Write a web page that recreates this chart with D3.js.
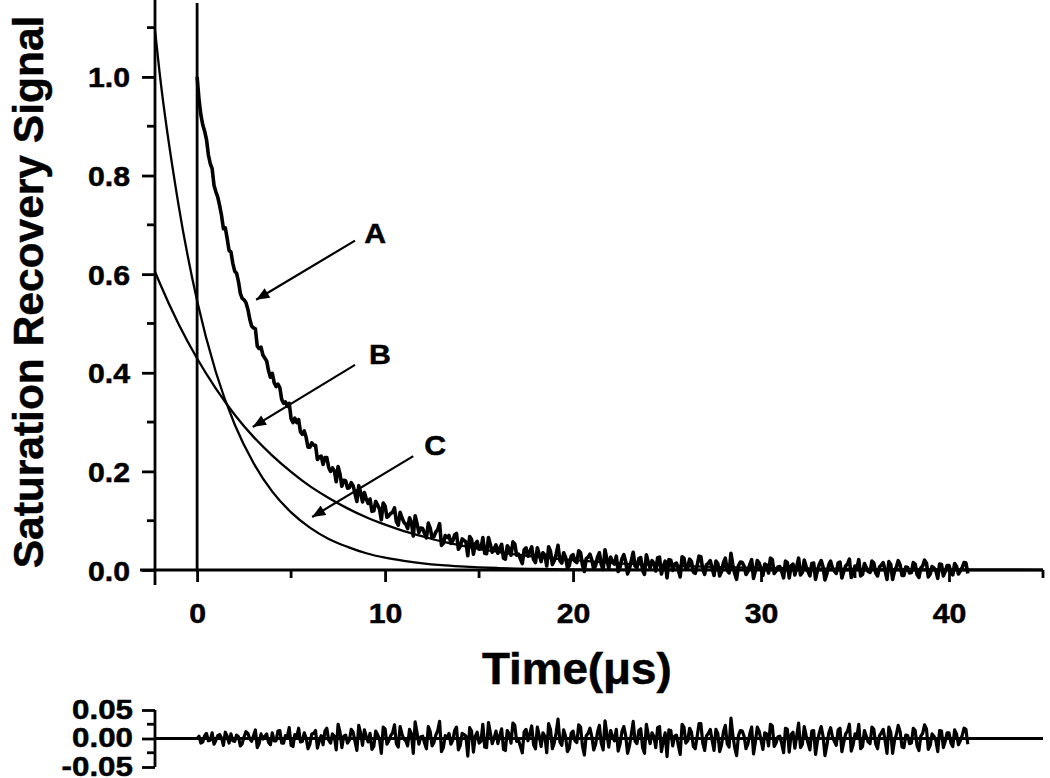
<!DOCTYPE html>
<html>
<head>
<meta charset="utf-8">
<script src="https://cdn.jsdelivr.net/npm/d3@7"></script>
<style>
    html, body { margin: 0; padding: 0; background: #fff; }
    svg { display: block; }
    text { font-family: "Liberation Sans", Arial, sans-serif; font-weight: bold; fill: #000;
           stroke: #000; stroke-width: 0.5px; }
</style>
</head>
<body>
<div id="chart"></div>
<script>
// sampling of the measured trace (A) and its residual, in microseconds
const traceStart = 0;
const traceStep = 0.1;

// curve A: measured saturation recovery signal
const signalA = [
    1.000, 0.955, 0.923, 0.903, 0.890, 0.873, 0.842, 0.824, 0.814, 0.780,
    0.767, 0.756, 0.739, 0.719, 0.692, 0.694, 0.672, 0.648, 0.645, 0.622,
    0.606, 0.602, 0.585, 0.561, 0.551, 0.548, 0.542, 0.529, 0.509, 0.495,
    0.491, 0.489, 0.454, 0.449, 0.452, 0.436, 0.430, 0.424, 0.404, 0.391,
    0.399, 0.380, 0.372, 0.377, 0.370, 0.346, 0.338, 0.341, 0.332, 0.338,
    0.307, 0.299, 0.308, 0.299, 0.305, 0.280, 0.275, 0.282, 0.269, 0.249,
    0.249, 0.258, 0.253, 0.253, 0.224, 0.229, 0.231, 0.214, 0.228, 0.228,
    0.208, 0.200, 0.207, 0.201, 0.179, 0.210, 0.195, 0.170, 0.182, 0.181,
    0.166, 0.167, 0.177, 0.171, 0.155, 0.139, 0.171, 0.157, 0.138, 0.157,
    0.144, 0.135, 0.144, 0.119, 0.120, 0.139, 0.132, 0.124, 0.102, 0.136,
    0.130, 0.107, 0.110, 0.115, 0.117, 0.126, 0.098, 0.091, 0.117, 0.106,
    0.097, 0.093, 0.084, 0.106, 0.097, 0.069, 0.110, 0.094, 0.076, 0.085,
    0.084, 0.074, 0.065, 0.095, 0.085, 0.065, 0.068, 0.077, 0.082, 0.094,
    0.050, 0.054, 0.070, 0.066, 0.070, 0.054, 0.059, 0.071, 0.074, 0.042,
    0.048, 0.063, 0.060, 0.057, 0.029, 0.068, 0.062, 0.032, 0.053, 0.058,
    0.042, 0.043, 0.066, 0.034, 0.033, 0.066, 0.052, 0.036, 0.043, 0.051,
    0.034, 0.044, 0.052, 0.024, 0.022, 0.049, 0.043, 0.030, 0.057, 0.053,
    0.030, 0.032, 0.022, 0.013, 0.041, 0.045, 0.028, 0.037, 0.047, 0.021,
    0.015, 0.045, 0.032, 0.017, 0.035, 0.030, 0.008, 0.047, 0.038, 0.011,
    0.019, 0.032, 0.050, 0.019, 0.014, 0.035, 0.026, 0.004, 0.009, 0.028,
    0.031, 0.018, 0.015, 0.039, 0.035, 0.010, -0.003, 0.023, 0.026, 0.032,
    0.020, 0.002, 0.009, 0.026, 0.035, 0.011, 0.001, 0.041, 0.022, 0.003,
    0.026, 0.017, 0.012, 0.028, -0.003, 0.006, 0.023, 0.031, 0.017, -0.008,
    0.003, 0.019, 0.036, 0.008, 0.005, 0.023, 0.025, -0.001, -0.009, 0.031,
    0.016, 0.004, 0.019, 0.014, -0.002, 0.025, 0.026, -0.008, 0.006, 0.018,
    -0.016, 0.021, 0.020, -0.001, 0.012, 0.014, 0.000, -0.014, 0.027, 0.024,
    0.002, 0.005, 0.022, 0.017, -0.004, -0.007, 0.009, 0.028, 0.027, 0.001,
    -0.009, 0.011, 0.014, 0.019, 0.003, -0.011, 0.018, 0.013, -0.012, -0.003,
    0.015, 0.024, -0.001, -0.006, 0.034, 0.010, -0.007, -0.019, 0.009, 0.016,
    0.015, 0.008, -0.009, -0.003, 0.011, 0.021, -0.017, -0.001, 0.019, 0.014,
    0.002, -0.011, 0.012, 0.010, -0.006, 0.024, 0.021, -0.007, -0.002, 0.006,
    0.007, -0.003, -0.016, 0.018, 0.015, -0.016, 0.008, 0.012, -0.010, 0.007,
    0.024, -0.010, -0.005, 0.020, 0.007, -0.003, -0.012, 0.013, 0.014, -0.019,
    -0.001, 0.011, 0.019, 0.006, -0.020, -0.008, 0.010, 0.018, 0.004, -0.002,
    -0.007, 0.014, 0.016, -0.016, -0.003, 0.008, 0.012, 0.022, -0.015, -0.007,
    0.008, 0.004, 0.021, -0.012, -0.009, 0.013, 0.005, -0.003, -0.005, 0.018,
    0.014, -0.006, -0.012, 0.006, 0.010, 0.015, -0.001, -0.019, 0.017, 0.011,
    -0.019, -0.002, 0.006, 0.019, 0.010, -0.011, -0.011, 0.006, 0.005, -0.006,
    -0.005, 0.015, 0.012, -0.009, -0.015, 0.004, 0.008, 0.020, 0.014, -0.014,
    -0.008, 0.007, 0.004, -0.001, -0.017, 0.012, 0.011, -0.012, -0.003, 0.009,
    0.009, -0.005, -0.010, 0.013, 0.007, -0.008, -0.002, 0.005, 0.015, 0.014,
    -0.007
];

// residual of the fit, same sampling as signalA
const residual = [
    0.000, 0.004, -0.008, -0.006, 0.005, 0.009, -0.004, -0.003, 0.010, -0.010,
    -0.003, 0.005, 0.007, 0.001, -0.012, 0.011, 0.004, -0.008, 0.008, -0.004,
    -0.005, 0.006, 0.003, -0.013, -0.009, 0.003, 0.012, 0.009, -0.001, -0.005,
    0.005, 0.015, -0.016, -0.009, 0.008, -0.001, 0.004, 0.008, -0.007, -0.011,
    0.010, -0.004, -0.004, 0.013, 0.014, -0.008, -0.008, 0.005, 0.003, 0.019,
    -0.012, -0.014, 0.007, 0.003, 0.018, -0.006, -0.005, 0.010, 0.001, -0.018,
    -0.010, 0.008, 0.009, 0.014, -0.017, -0.004, 0.005, -0.011, 0.013, 0.018,
    -0.003, -0.008, 0.008, 0.004, -0.020, 0.025, 0.012, -0.016, 0.004, 0.006,
    -0.008, -0.003, 0.016, 0.011, -0.005, -0.021, 0.023, 0.009, -0.012, 0.015,
    0.003, -0.006, 0.009, -0.019, -0.014, 0.013, 0.007, -0.001, -0.026, 0.020,
    0.017, -0.010, -0.004, 0.005, 0.010, 0.024, -0.009, -0.015, 0.021, 0.008,
    -0.001, -0.004, -0.013, 0.016, 0.008, -0.026, 0.029, 0.010, -0.010, 0.003,
    0.004, -0.008, -0.018, 0.021, 0.012, -0.013, -0.007, 0.006, 0.014, 0.030,
    -0.023, -0.016, 0.005, 0.001, 0.009, -0.010, -0.003, 0.014, 0.020, -0.020,
    -0.012, 0.009, 0.007, 0.004, -0.031, 0.019, 0.013, -0.024, 0.004, 0.011,
    -0.008, -0.005, 0.025, -0.015, -0.016, 0.028, 0.010, -0.009, 0.001, 0.013,
    -0.009, 0.005, 0.017, -0.019, -0.021, 0.014, 0.008, -0.008, 0.027, 0.023,
    -0.005, -0.003, -0.014, -0.025, 0.012, 0.016, -0.004, 0.008, 0.022, -0.011,
    -0.018, 0.020, 0.005, -0.014, 0.010, 0.004, -0.025, 0.026, 0.016, -0.018,
    -0.008, 0.010, 0.034, -0.006, -0.012, 0.015, 0.004, -0.023, -0.017, 0.009,
    0.013, -0.004, -0.007, 0.024, 0.020, -0.013, -0.029, 0.005, 0.009, 0.018,
    0.003, -0.020, -0.010, 0.011, 0.023, -0.008, -0.020, 0.031, 0.008, -0.015,
    0.014, 0.003, -0.004, 0.016, -0.022, -0.010, 0.012, 0.021, 0.005, -0.026,
    -0.013, 0.008, 0.030, -0.005, -0.009, 0.014, 0.017, -0.016, -0.026, 0.025,
    0.007, -0.009, 0.010, 0.004, -0.016, 0.019, 0.021, -0.023, -0.005, 0.010,
    -0.032, 0.015, 0.014, -0.013, 0.004, 0.006, -0.012, -0.028, 0.025, 0.020,
    -0.008, -0.004, 0.018, 0.011, -0.014, -0.018, 0.003, 0.026, 0.026, -0.008,
    -0.021, 0.005, 0.009, 0.016, -0.004, -0.021, 0.016, 0.009, -0.023, -0.011,
    0.012, 0.023, -0.009, -0.015, 0.036, 0.006, -0.016, -0.030, 0.005, 0.014,
    0.013, 0.004, -0.018, -0.010, 0.008, 0.020, -0.027, -0.006, 0.020, 0.013,
    -0.003, -0.019, 0.010, 0.008, -0.013, 0.025, 0.022, -0.014, -0.008, 0.003,
    0.004, -0.009, -0.025, 0.018, 0.016, -0.024, 0.007, 0.011, -0.017, 0.005,
    0.027, -0.016, -0.010, 0.021, 0.005, -0.008, -0.020, 0.013, 0.014, -0.028,
    -0.005, 0.010, 0.021, 0.004, -0.030, -0.013, 0.009, 0.019, 0.003, -0.005,
    -0.012, 0.015, 0.018, -0.023, -0.007, 0.008, 0.013, 0.025, -0.022, -0.011,
    0.008, 0.003, 0.025, -0.018, -0.014, 0.014, 0.004, -0.006, -0.009, 0.020,
    0.016, -0.010, -0.018, 0.005, 0.010, 0.016, -0.004, -0.026, 0.020, 0.011,
    -0.026, -0.004, 0.007, 0.023, 0.012, -0.015, -0.016, 0.006, 0.005, -0.009,
    -0.008, 0.018, 0.014, -0.013, -0.021, 0.004, 0.009, 0.024, 0.017, -0.019,
    -0.012, 0.008, 0.004, -0.003, -0.023, 0.014, 0.013, -0.016, -0.005, 0.010,
    0.010, -0.008, -0.014, 0.015, 0.008, -0.011, -0.004, 0.005, 0.018, 0.016,
    -0.010
];

// fitted components B (slow) and C (fast)
const fitTime = [-2.24, -2, -1, 0, 1, 2, 3, 4, 5, 6, 7, 8, 9, 10, 11, 12, 13, 14, 15,
    16, 17, 18, 19, 20, 22, 24, 26, 28, 30, 33, 36, 40, 45];
const fitB = [0.605, 0.583, 0.500, 0.429, 0.368, 0.315, 0.270, 0.232, 0.199, 0.170, 0.146,
    0.125, 0.107, 0.092, 0.079, 0.068, 0.058, 0.050, 0.043, 0.037, 0.031, 0.027, 0.023,
    0.020, 0.0145, 0.0107, 0.0079, 0.0058, 0.0042, 0.0027, 0.0017, 0.0009, 0.0004];
const fitC = [1.095, 1.010, 0.743, 0.546, 0.401, 0.295, 0.217, 0.159, 0.117, 0.086, 0.063,
    0.047, 0.034, 0.025, 0.0185, 0.0136, 0.010, 0.0074, 0.0054, 0.004, 0.0029, 0.0022,
    0.0016, 0.0012, 0.0006, 0.0003, 0.0002, 0.0001, 0.0001, 0, 0, 0, 0];

// ticks
const xMajorTicks = [0, 10, 20, 30, 40];
const xMinorTicks = [5, 15, 25, 35, 45];
const yMajorTicks = [0, 0.2, 0.4, 0.6, 0.8, 1.0];
const yMinorTicks = [0.1, 0.3, 0.5, 0.7, 0.9, 1.1];
const resMajorTicks = [-0.05, 0, 0.05];
const resMinorTicks = [-0.025, 0.025];

// annotations: label, label position, arrow start, arrow tip (data units)
const arrowLabels = ["A", "B", "C"];
const labelPos = [[9.47, 0.684], [9.73, 0.438], [12.66, 0.254]];
const arrowFrom = [[8.40, 0.668], [8.40, 0.416], [11.50, 0.231]];
const arrowTo = [[3.14, 0.548], [2.96, 0.290], [6.12, 0.1075]];

const W = 1050, H = 778;
const textStretch = 1.08;

const svg = d3.select('#chart').append('svg')
    .attr('width', W)
    .attr('height', H);

const x = d3.scaleLinear().domain([-2.24, 45]).range([155, 1043]);
const y = d3.scaleLinear().domain([0, 1.156]).range([570, 0]);
const yr = d3.scaleLinear().domain([-0.05, 0.05]).range([767, 710]);

const traceTime = signalA.map((v, i) => traceStart + i * traceStep);

// the original lettering is a little wider than Arial: stretch it horizontally
function stretch(sel, sx) {
    sel.each(function () {
        const t = d3.select(this);
        const tx = +t.attr('x') || 0;
        const ty = +t.attr('y') || 0;
        t.attr('x', 0).attr('y', 0)
            .attr('transform', `translate(${tx},${ty}) scale(${sx},1)`);
    });
}

// ---- main panel ----

// x axis (overshoots a little to the left like the original)
svg.append('line')
    .attr('x1', x(-2.24) - 15).attr('x2', x(45))
    .attr('y1', y(0)).attr('y2', y(0))
    .attr('stroke', '#000').attr('stroke-width', 2.8);

const xAxis = svg.append('g')
    .attr('transform', `translate(0,${y(0)})`);
xAxis.call(d3.axisBottom(x).tickValues(xMajorTicks).tickSize(12).tickFormat(d3.format('d')))
    .call(g => g.select('.domain').remove())
    .call(g => g.selectAll('line').attr('stroke-width', 2.8))
    .call(g => g.selectAll('text')
        .attr('dy', null).attr('y', 53)
        .style('font-size', '28px'));
stretch(xAxis.selectAll('text'), textStretch);
xAxis.selectAll('.minor')
    .data(xMinorTicks)
    .join('line')
    .attr('class', 'minor')
    .attr('x1', d => x(d)).attr('x2', d => x(d))
    .attr('y1', 0).attr('y2', 8)
    .attr('stroke', '#000').attr('stroke-width', 2.8);

// y axis (runs a little below the x axis)
svg.append('line')
    .attr('x1', x(-2.24)).attr('x2', x(-2.24))
    .attr('y1', 0).attr('y2', y(0) + 15)
    .attr('stroke', '#000').attr('stroke-width', 2.8);

const yAxis = svg.append('g')
    .attr('transform', `translate(${x(-2.24)},0)`);
yAxis.call(d3.axisLeft(y).tickValues(yMajorTicks).tickSize(13).tickFormat(d3.format('.1f')))
    .call(g => g.select('.domain').remove())
    .call(g => g.selectAll('line').attr('stroke-width', 2.8))
    .call(g => g.selectAll('text')
        .attr('x', -25).attr('dy', null).attr('y', 10)
        .style('font-size', '28px'));
stretch(yAxis.selectAll('text'), textStretch);
yAxis.selectAll('.minor')
    .data(yMinorTicks)
    .join('line')
    .attr('class', 'minor')
    .attr('x1', -8).attr('x2', 0)
    .attr('y1', d => y(d)).attr('y2', d => y(d))
    .attr('stroke', '#000').attr('stroke-width', 2.8);

// vertical marker at t = 0
svg.append('line')
    .attr('x1', x(0)).attr('x2', x(0))
    .attr('y1', y(0)).attr('y2', y(1.15))
    .attr('stroke', '#000').attr('stroke-width', 2.8);

// fitted components
const fitLine = vals => d3.line()
    .x((d, i) => x(fitTime[i]))
    .y(d => y(d))
    .curve(d3.curveMonotoneX)(vals);

svg.append('path')
    .attr('d', fitLine(fitB))
    .attr('fill', 'none').attr('stroke', '#000').attr('stroke-width', 2.3);

svg.append('path')
    .attr('d', fitLine(fitC))
    .attr('fill', 'none').attr('stroke', '#000').attr('stroke-width', 2.3);

// measured trace
svg.append('path')
    .datum(signalA)
    .attr('d', d3.line()
        .x((d, i) => x(traceTime[i]))
        .y(d => y(d)))
    .attr('fill', 'none').attr('stroke', '#000')
    .attr('stroke-width', 3.6).attr('stroke-linejoin', 'round');

// arrows
svg.append('defs').append('marker')
    .attr('id', 'arrowhead')
    .attr('viewBox', '0 -5 12 10')
    .attr('refX', 12)
    .attr('refY', 0)
    .attr('markerWidth', 14)
    .attr('markerHeight', 11)
    .attr('markerUnits', 'userSpaceOnUse')
    .attr('orient', 'auto')
    .append('path')
    .attr('d', 'M0,-5L12,0L0,5Z')
    .attr('fill', '#000');

arrowLabels.forEach((lab, i) => {
    svg.append('line')
        .attr('x1', x(arrowFrom[i][0])).attr('y1', y(arrowFrom[i][1]))
        .attr('x2', x(arrowTo[i][0])).attr('y2', y(arrowTo[i][1]))
        .attr('stroke', '#000').attr('stroke-width', 2.2)
        .attr('marker-end', 'url(#arrowhead)');
    const t = svg.append('text')
        .attr('x', x(labelPos[i][0]))
        .attr('y', y(labelPos[i][1]) + 10)
        .attr('text-anchor', 'middle')
        .style('font-size', '28px')
        .text(lab);
    stretch(t, textStretch);
});

// axis titles
svg.append('text')
    .attr('transform', `translate(43,292) rotate(-90)`)
    .attr('text-anchor', 'middle')
    .style('font-size', '42.5px')
    .text('Saturation Recovery Signal');

const xTitle = svg.append('text')
    .attr('x', x(20.2))
    .attr('y', 684)
    .attr('text-anchor', 'middle')
    .style('font-size', '44px')
    .text('Time(\u03bcs)');
stretch(xTitle, 1.04);

// ---- residual panel ----

svg.append('line')
    .attr('x1', x(-2.24)).attr('x2', x(45))
    .attr('y1', yr(0)).attr('y2', yr(0))
    .attr('stroke', '#000').attr('stroke-width', 2.8);

const rAxis = svg.append('g')
    .attr('transform', `translate(${x(-2.24)},0)`);
rAxis.call(d3.axisLeft(yr).tickValues(resMajorTicks).tickSize(13).tickFormat(d3.format('.2f')))
    .call(g => g.select('.domain').attr('d', `M0,${yr(0.05)}V${yr(-0.05)}`).attr('stroke-width', 2.8))
    .call(g => g.selectAll('line').attr('stroke-width', 2.8))
    .call(g => g.selectAll('text')
        .attr('x', -22).attr('dy', null).attr('y', 8)
        .text(d => d3.format('.2f')(d).replace('\u2212', '-'))
        .style('font-size', '28px'));
stretch(rAxis.selectAll('text'), 1.12);
rAxis.selectAll('.minor')
    .data(resMinorTicks)
    .join('line')
    .attr('class', 'minor')
    .attr('x1', -8).attr('x2', 0)
    .attr('y1', d => yr(d)).attr('y2', d => yr(d))
    .attr('stroke', '#000').attr('stroke-width', 2.8);

svg.append('path')
    .datum(residual)
    .attr('d', d3.line()
        .x((d, i) => x(traceTime[i]))
        .y(d => yr(d)))
    .attr('fill', 'none').attr('stroke', '#000')
    .attr('stroke-width', 3.2).attr('stroke-linejoin', 'round');
</script>
</body>
</html>
